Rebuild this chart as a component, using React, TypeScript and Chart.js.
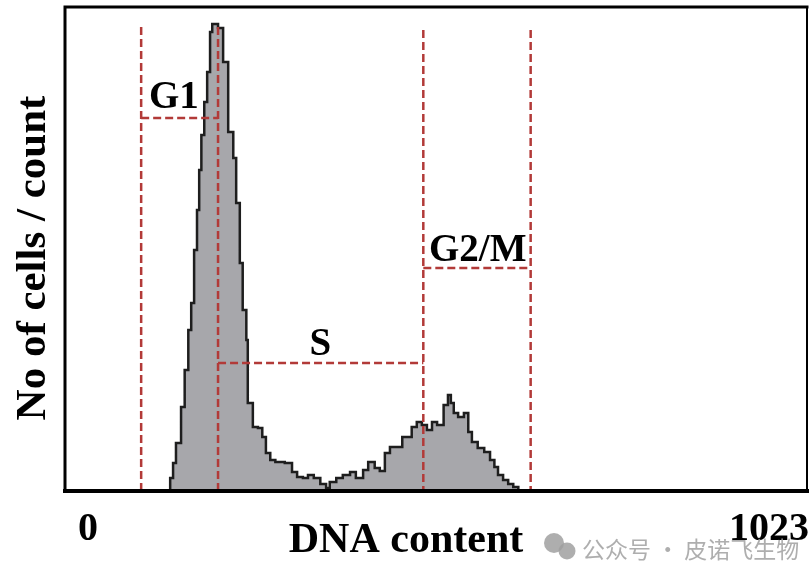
import { useEffect, useRef } from "react";
import { Chart, registerables } from "chart.js";
Chart.register(...registerables);

// Histogram bins: start channel of each bin and its cell count
const channels = [0, 145, 149, 153, 160, 165, 170, 174, 178, 182, 185, 188, 192, 196, 200, 203, 211, 218, 225, 232, 236, 241, 245, 250, 252, 259, 266, 272, 277, 283, 290, 303, 313, 320, 328, 335, 343, 352, 360, 365, 374, 383, 393, 401, 411, 418, 427, 434, 441, 448, 458, 465, 472, 478, 485, 492, 499, 506, 513, 522, 528, 532, 536, 542, 550, 556, 561, 569, 578, 586, 592, 597, 604, 611, 618, 625, 1023];
const counts = [0, 13, 28, 48, 84, 121, 161, 188, 241, 281, 321, 356, 389, 419, 459, 467, 463, 429, 359, 333, 288, 228, 181, 151, 88, 64, 63, 54, 38, 31, 29, 28, 19, 14, 13, 16, 13, 7, 3, 9, 13, 16, 19, 13, 21, 29, 23, 20, 38, 44, 44, 54, 54, 64, 69, 66, 61, 69, 66, 86, 96, 88, 78, 74, 78, 59, 49, 43, 39, 31, 24, 16, 11, 7, 4, 0, 0];

// Gate boundaries (channels) and phase labels
const gateEdges = [105, 211, 494, 642];
const gateTops = [464, 464, 461, 461];
const gateLabels = ["G1", "S", "G2/M"];
const gateBarLevels = [373, 128, 223];
const gateLabelX = [150, 352, 569];
const gateLabelY = [383, 136, 230];

const xTickLabels = ["0", "1023"];
const xTitle = "DNA content";
const yTitle = "No of cells / count";
const watermark = "公众号 · 皮诺飞生物";

const SERIF = '"Liberation Serif", "Times New Roman", serif';

const decorPlugin = {
  id: "decor",
  afterDatasetsDraw(chart: any) {
    const { ctx, chartArea: a, scales } = chart;
    const xs = scales.x, ys = scales.y;
    ctx.save();
    // dashed gate lines
    ctx.strokeStyle = "#b23a38";
    ctx.lineWidth = 2.5;
    ctx.setLineDash([8, 4]);
    gateEdges.forEach((g, i) => {
      const px = xs.getPixelForValue(g);
      ctx.beginPath();
      ctx.moveTo(px, ys.getPixelForValue(gateTops[i]));
      ctx.lineTo(px, a.bottom);
      ctx.stroke();
    });
    gateBarLevels.forEach((lv, i) => {
      const py = ys.getPixelForValue(lv);
      ctx.beginPath();
      ctx.moveTo(xs.getPixelForValue(gateEdges[i]), py);
      ctx.lineTo(xs.getPixelForValue(gateEdges[i + 1]), py);
      ctx.stroke();
    });
    ctx.setLineDash([]);
    // labels
    ctx.fillStyle = "#000";
    ctx.font = `bold 39px ${SERIF}`;
    ctx.textAlign = "center";
    ctx.textBaseline = "alphabetic";
    gateLabels.forEach((t, i) => {
      ctx.fillText(t, xs.getPixelForValue(gateLabelX[i]), ys.getPixelForValue(gateLabelY[i]));
    });
    // frame
    ctx.strokeStyle = "#000";
    ctx.lineCap = "square";
    ctx.lineWidth = 3;
    ctx.beginPath();
    ctx.moveTo(a.left, a.bottom);
    ctx.lineTo(a.left, a.top);
    ctx.lineTo(a.right, a.top);
    ctx.stroke();
    ctx.lineWidth = 2;
    ctx.beginPath();
    ctx.moveTo(a.right, a.top);
    ctx.lineTo(a.right, a.bottom);
    ctx.stroke();
    ctx.lineWidth = 4;
    ctx.beginPath();
    ctx.moveTo(a.left, a.bottom);
    ctx.lineTo(a.right, a.bottom);
    ctx.stroke();
    // axis texts
    ctx.font = `bold 40px ${SERIF}`;
    ctx.textAlign = "center";
    ctx.fillText(xTickLabels[0], 88, 540);
    ctx.textAlign = "right";
    ctx.fillText(xTickLabels[1], 809, 540);
    ctx.textAlign = "center";
    ctx.font = `bold 42px ${SERIF}`;
    ctx.fillText(xTitle, 406, 552);
    ctx.save();
    ctx.translate(45, (a.top + a.bottom) / 2 + 9);
    ctx.rotate(-Math.PI / 2);
    ctx.font = `bold 43px ${SERIF}`;
    ctx.fillText(yTitle, 0, 0);
    ctx.restore();
    // watermark
    ctx.fillStyle = "rgba(160,160,160,0.85)";
    ctx.beginPath();
    ctx.arc(554, 543, 10, 0, Math.PI * 2);
    ctx.fill();
    ctx.beginPath();
    ctx.arc(567, 551, 8.5, 0, Math.PI * 2);
    ctx.fill();
    ctx.font = `23px "Noto Sans CJK SC", sans-serif`;
    ctx.textAlign = "left";
    ctx.fillText(watermark, 582, 558);
    ctx.restore();
  },
};

export default function App() {
  const ref = useRef<HTMLCanvasElement | null>(null);
  useEffect(() => {
    document.body.style.margin = "0";
    const canvas = ref.current!;
    const chart = new Chart(canvas, {
      type: "line",
      data: {
        datasets: [
          {
            data: channels.map((c, i) => ({ x: c, y: counts[i] })),
            stepped: true,
            fill: "origin",
            backgroundColor: "#a7a7ab",
            borderColor: "#1e1e1e",
            borderWidth: 2.5,
            pointRadius: 0,
          },
        ],
      },
      options: {
        animation: false,
        responsive: false,
        layout: { padding: { left: 65, top: 7, right: 3, bottom: 72 } },
        plugins: { legend: { display: false }, tooltip: { enabled: false } },
        scales: {
          x: { type: "linear", min: 0, max: 1023, display: false },
          y: { type: "linear", min: 0, max: 484, display: false },
        },
      },
      plugins: [decorPlugin],
    });
    return () => chart.destroy();
  }, []);
  return <canvas ref={ref} width={810} height={563} style={{ display: "block" }} />;
}
